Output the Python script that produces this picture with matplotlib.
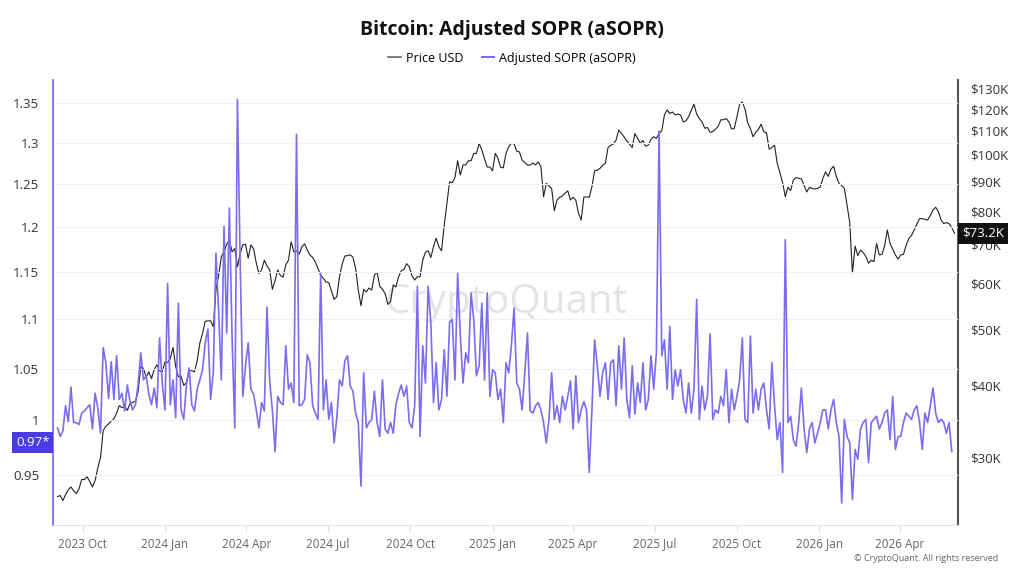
import matplotlib
matplotlib.use("Agg")
import matplotlib.pyplot as plt
import matplotlib.transforms as mtransforms
from matplotlib.lines import Line2D
from matplotlib.ticker import NullLocator
import pandas as pd

plt.rcParams['font.family'] = ['Open Sans', 'DejaVu Sans']

# aSOPR, one reading every 3 days starting 2023-09-03
sopr = [
    0.993, 0.985, 0.990, 1.014, 0.999, 1.032, 0.998, 0.998, 0.996, 1.007,
    1.009, 1.012, 1.015, 0.992, 1.026, 1.012, 0.988, 1.071, 1.056, 1.021,
    1.057, 1.020, 1.063, 1.020, 1.026, 1.009, 1.034, 1.018, 1.010, 1.015,
    1.034, 1.066, 1.039, 1.043, 1.025, 1.015, 1.031, 1.012, 1.081, 1.036,
    1.010, 1.138, 1.015, 1.039, 1.0025, 1.117, 1.010, 1.001, 1.034, 1.051,
    1.015, 1.009, 1.030, 1.039, 1.049, 1.076, 1.090, 1.020, 1.046, 1.171,
    1.108, 1.039, 1.201, 1.086, 1.222, 1.081, 0.993, 1.354, 1.164, 1.023,
    1.053, 1.076, 1.030, 1.025, 1.010, 0.993, 1.017, 1.009, 1.113, 1.038,
    1.010, 0.971, 1.023, 1.017, 1.015, 1.073, 1.030, 1.036, 1.017, 1.310,
    1.014, 1.015, 1.020, 1.064, 1.056, 1.014, 1.007, 1.001, 1.149, 1.010,
    1.039, 1.001, 1.017, 0.979, 1.0025, 1.039, 1.033, 1.058, 1.063, 1.033,
    1.028, 1.007, 0.998, 0.940, 1.046, 0.993, 0.998, 1.001, 1.028, 0.998,
    0.985, 1.039, 0.992, 0.988, 0.998, 0.988, 1.015, 1.026, 1.034, 1.023,
    1.033, 0.998, 0.993, 1.014, 1.135, 0.985, 1.073, 1.036, 1.135, 1.097,
    1.017, 1.056, 1.010, 1.020, 1.069, 1.023, 1.097, 1.100, 1.039, 1.149,
    1.083, 1.036, 1.066, 1.056, 1.128, 1.100, 1.043, 1.053, 1.117, 1.039,
    1.128, 1.023, 1.049, 1.046, 1.020, 1.030, 0.998, 1.056, 1.046, 1.073,
    1.112, 1.036, 1.030, 1.010, 1.046, 1.086, 1.009, 1.007, 1.014, 1.017,
    1.010, 0.998, 0.979, 1.001, 1.046, 1.001, 1.014, 0.998, 1.023, 1.010,
    1.023, 1.038, 0.992, 1.043, 0.998, 1.010, 1.018, 1.010, 0.952, 1.010,
    1.079, 1.053, 1.023, 1.046, 1.056, 1.020, 1.056, 1.059, 1.014, 1.073,
    1.030, 1.081, 1.020, 1.0025, 1.053, 1.006, 1.036, 1.017, 1.056, 1.010,
    1.020, 1.063, 1.030, 1.066, 1.314, 1.063, 1.079, 1.030, 1.093, 1.020,
    1.049, 1.033, 1.049, 1.020, 1.007, 1.036, 1.007, 1.030, 1.121, 1.001,
    1.033, 1.010, 1.023, 1.085, 1.001, 1.010, 1.007, 1.023, 1.014, 1.049,
    0.998, 1.030, 1.010, 1.023, 1.039, 1.081, 1.001, 0.998, 1.083, 1.007,
    1.030, 1.010, 1.030, 1.036, 1.010, 0.992, 1.056, 1.014, 0.982, 0.998,
    0.952, 1.186, 0.998, 1.004, 0.982, 0.976, 0.998, 1.031, 0.992, 0.970,
    0.992, 0.998, 0.979, 0.988, 0.998, 1.010, 1.010, 0.992, 1.010, 1.020,
    0.998, 0.985, 0.925, 1.001, 0.985, 0.979, 0.928, 0.973, 0.964, 0.992,
    0.998, 1.001, 0.961, 0.998, 1.001, 1.004, 0.992, 0.998, 1.007, 1.010,
    0.982, 1.023, 0.973, 0.985, 0.985, 0.998, 1.007, 1.004, 1.001, 1.010,
    1.014, 0.998, 0.973, 1.007, 0.998, 1.014, 1.031, 1.007, 0.998, 1.001,
    0.998, 0.988, 0.998, 0.971,
]

# BTC price in thousand USD, one reading every 3 days starting 2023-09-03
price_k = [
    25.7, 25.8, 25.3, 25.9, 26.4, 26.7, 26.3, 26.0, 26.5, 27.5,
    27.5, 27.8, 27.3, 26.7, 27.4, 28.8, 30.0, 33.4, 34.0, 34.3,
    34.7, 35.0, 35.8, 36.9, 36.6, 36.8, 36.2, 37.2, 37.4, 37.5,
    39.0, 43.1, 42.8, 41.3, 42.2, 41.1, 42.6, 43.4, 42.4, 42.2,
    43.9, 43.8, 44.5, 46.5, 43.1, 41.4, 41.5, 40.0, 40.4, 42.4,
    42.4, 42.2, 44.1, 47.3, 49.2, 51.6, 51.7, 51.7, 50.5, 58.4,
    62.0, 66.7, 68.0, 70.1, 71.3, 68.0, 68.9, 64.1, 67.6, 69.9,
    70.1, 66.3, 69.9, 68.9, 65.1, 62.4, 63.3, 65.8, 64.3, 63.3,
    58.6, 60.6, 63.3, 61.9, 61.5, 64.6, 65.8, 70.8, 68.0, 68.3,
    67.4, 69.4, 70.2, 68.5, 67.2, 66.5, 65.3, 63.6, 62.0, 61.2,
    60.3, 60.2, 58.2, 56.3, 56.9, 61.6, 64.8, 66.9, 67.0, 67.2,
    66.6, 63.7, 58.4, 54.9, 58.6, 58.0, 58.9, 58.4, 62.0, 62.7,
    59.3, 58.6, 57.6, 55.2, 55.8, 59.6, 59.2, 61.6, 63.1, 63.4,
    64.9, 64.1, 61.8, 60.8, 61.6, 61.6, 65.8, 67.9, 68.3, 66.5,
    69.4, 71.8, 69.4, 68.3, 75.6, 82.5, 89.9, 89.5, 91.4, 97.7,
    92.3, 96.1, 96.1, 97.7, 97.7, 100.6, 100.6, 104.7, 102.0, 98.4,
    95.3, 95.3, 93.9, 100.6, 98.7, 95.2, 95.0, 100.6, 103.3, 104.7,
    104.5, 101.5, 101.2, 98.0, 97.0, 96.1, 96.0, 96.8, 96.1, 97.2,
    95.4, 84.7, 89.3, 88.4, 87.5, 80.1, 83.6, 84.5, 84.9, 85.9,
    86.7, 83.6, 84.5, 83.5, 79.3, 77.2, 84.6, 84.6, 84.5, 88.1,
    93.9, 94.1, 94.8, 96.0, 96.7, 103.0, 103.9, 104.4, 106.1, 110.4,
    108.9, 107.4, 105.7, 104.4, 103.0, 108.9, 106.8, 104.7, 105.9, 103.5,
    104.0, 106.4, 107.5, 106.8, 108.9, 110.1, 117.2, 119.6, 117.9, 118.6,
    117.3, 117.6, 117.2, 114.0, 114.5, 116.4, 119.3, 122.4, 117.6, 115.5,
    114.1, 111.2, 111.5, 109.4, 109.7, 110.8, 112.0, 115.0, 115.0, 115.5,
    114.1, 110.9, 111.1, 116.4, 122.4, 123.4, 120.0, 113.6, 111.1, 107.5,
    109.4, 110.7, 113.0, 109.6, 109.2, 102.3, 103.0, 103.9, 96.7, 93.2,
    89.5, 84.7, 88.0, 86.8, 90.5, 91.4, 91.1, 90.9, 88.6, 86.3,
    87.9, 87.5, 87.3, 87.5, 88.0, 91.1, 93.5, 91.8, 94.5, 95.6,
    91.8, 89.3, 88.5, 87.5, 81.9, 76.4, 62.5, 69.6, 67.0, 68.5,
    67.8, 66.8, 65.0, 65.8, 65.4, 70.3, 67.2, 67.3, 69.7, 74.2,
    70.3, 68.8, 67.2, 66.1, 67.2, 67.3, 69.8, 71.7, 72.6, 74.2,
    76.0, 77.6, 77.6, 77.4, 77.2, 78.6, 80.3, 81.2, 79.8, 77.2,
    76.1, 76.4, 76.1, 74.9, 73.2,
]

sopr_dates = pd.date_range('2023-09-03', periods=len(sopr), freq='3D')
price_dates = pd.date_range('2023-09-03', periods=len(price_k), freq='3D')

x_ticks = ['2023-10-01', '2024-01-01', '2024-04-01', '2024-07-01', '2024-10-01',
           '2025-01-01', '2025-04-01', '2025-07-01', '2025-10-01', '2026-01-01',
           '2026-04-01']
x_labels = ['2023 Oct', '2024 Jan', '2024 Apr', '2024 Jul', '2024 Oct', '2025 Jan',
            '2025 Apr', '2025 Jul', '2025 Oct', '2026 Jan', '2026 Apr']
left_ticks = [0.95, 1.0, 1.05, 1.1, 1.15, 1.2, 1.25, 1.3, 1.35]
left_labels = ['0.95', '1', '1.05', '1.1', '1.15', '1.2', '1.25', '1.3', '1.35']
right_ticks = [30, 40, 50, 60, 70, 80, 90, 100, 110, 120, 130]
right_labels = ['$' + str(v) + 'K' for v in right_ticks]

purple = '#7b6cf0'

fig = plt.figure(figsize=(10.24, 5.76), dpi=100)
ax = fig.add_axes([0.0518, 0.0885, 0.8838, 0.7726])
ax2 = ax.twinx()
ax.set_zorder(ax2.get_zorder() + 1)
ax.patch.set_visible(False)

# price (right, log)
ax2.plot(price_dates, price_k, color='#222222', lw=0.8)
ax2.set_yscale('log')
ax2.set_ylim(22.95, 134.7)
ax2.set_yticks(right_ticks, right_labels)
ax2.yaxis.set_minor_locator(NullLocator())
ax2.tick_params(axis='y', length=0, pad=9, labelsize=9.5, colors='#333333')

# aSOPR (left, log)
ax.axhline(1.0, color='#c4c4c4', lw=0.8, ls=(0, (4, 3)), zorder=1)
ax.plot(sopr_dates, sopr, color=purple, lw=1.2, zorder=3)
ax.set_yscale('log')
ax.set_ylim(0.906, 1.379)
ax.set_yticks(left_ticks, left_labels)
ax.yaxis.set_minor_locator(NullLocator())
ax.tick_params(axis='y', length=0, pad=10, labelsize=9.5, colors='#333333')
ax.yaxis.grid(True, color='#f2f2f2', lw=0.8)

ax.set_xlim(pd.Timestamp('2023-08-29'), pd.Timestamp('2026-06-05'))
ax.set_xticks(pd.to_datetime(x_ticks), x_labels)
ax.tick_params(axis='x', length=4, color='#dddddd', labelsize=8.5,
               labelcolor='#666666', pad=5)

for a in (ax, ax2):
    a.spines['top'].set_visible(False)
ax.spines['right'].set_visible(False)
ax2.spines['left'].set_visible(False)
ax2.spines['bottom'].set_visible(False)
ax.spines['left'].set_color(purple)
ax.spines['left'].set_linewidth(1.3)
ax.spines['bottom'].set_color('#e4e4e4')
ax2.spines['right'].set_color('#555555')
ax2.spines['right'].set_linewidth(1.5)

# last-value badges
tl = mtransforms.blended_transform_factory(ax.transAxes, ax.transData)
ax.text(-0.004, 0.979, '0.97*', transform=tl, ha='right', va='center',
        fontsize=9.5, color='white',
        bbox=dict(boxstyle='square,pad=0.3', fc='#4b3ae6', ec='none'))
tr = mtransforms.blended_transform_factory(ax2.transAxes, ax2.transData)
ax2.text(1.004, price_k[-1], '$73.2K', transform=tr, ha='left', va='center',
         fontsize=9.5, color='white', zorder=5,
         bbox=dict(boxstyle='square,pad=0.3', fc='#111111', ec='none'))

# watermark
ax2.text(0.5, 0.5, 'CryptoQuant', transform=ax2.transAxes, ha='center', va='center',
         fontsize=29, color='#e3e3e9', zorder=0)

fig.text(0.5, 0.948, 'Bitcoin: Adjusted SOPR (aSOPR)', ha='center', va='center',
         fontsize=14, fontweight='bold', color='#111111')
handles = [Line2D([], [], color='#666666', lw=1.2), Line2D([], [], color=purple, lw=1.5)]
fig.legend(handles, ['Price USD', 'Adjusted SOPR (aSOPR)'], loc='center',
           bbox_to_anchor=(0.5, 0.899), ncol=2, frameon=False, fontsize=9,
           handlelength=1.0, handletextpad=0.4, columnspacing=1.5)
fig.text(0.975, 0.031, '\u00a9 CryptoQuant. All rights reserved', ha='right',
         va='center', fontsize=6.5, color='#666666')

fig.savefig('out.png', dpi=100)
